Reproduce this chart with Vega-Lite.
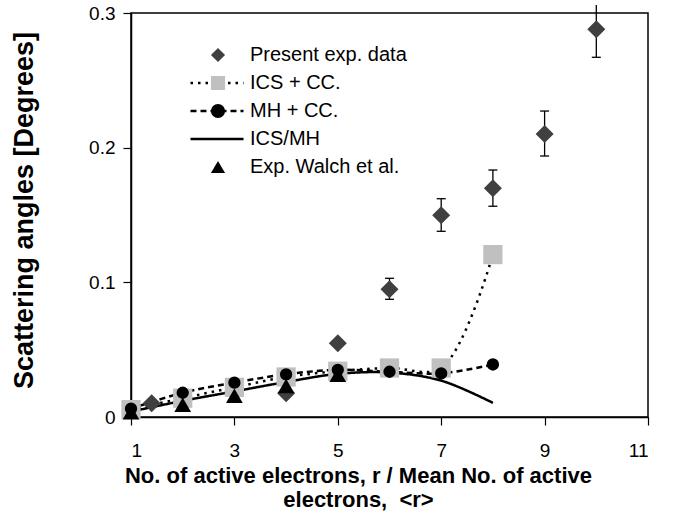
{
  "$schema": "https://vega.github.io/schema/vega-lite/v6.json",
  "width": 517,
  "height": 404,
  "autosize": {"type": "none"},
  "padding": {"left": 131, "top": 13, "right": 33, "bottom": 112},
  "background": "white",
  "config": {
    "font": "Liberation Sans",
    "view": {"stroke": "black", "strokeWidth": 1.5},
    "axis": {
      "domainColor": "black", "domainWidth": 1.5,
      "tickColor": "black", "tickWidth": 1.2, "tickSize": 8,
      "labelColor": "black", "titleColor": "black", "grid": false,
      "labelFont": "Liberation Sans", "titleFont": "Liberation Sans",
      "labelFontSize": 19
    },
    "legend": {
      "labelFont": "Liberation Sans", "labelFontSize": 20, "labelColor": "black",
      "labelLimit": 400, "padding": 0, "rowPadding": 0, "clipHeight": 28
    }
  },
  "datasets": {
    "points": [
      {"x": 1, "y": 0.0055, "series": "ICS + CC."},
      {"x": 2, "y": 0.014, "series": "ICS + CC."},
      {"x": 3, "y": 0.022, "series": "ICS + CC."},
      {"x": 4, "y": 0.0297, "series": "ICS + CC."},
      {"x": 5, "y": 0.034, "series": "ICS + CC."},
      {"x": 6, "y": 0.0364, "series": "ICS + CC."},
      {"x": 7, "y": 0.0364, "series": "ICS + CC."},
      {"x": 8, "y": 0.1206, "series": "ICS + CC."},
      {"x": 1.4, "y": 0.0102, "series": "Present exp. data"},
      {"x": 4, "y": 0.0176, "series": "Present exp. data"},
      {"x": 5, "y": 0.0547, "series": "Present exp. data"},
      {"x": 6, "y": 0.0948, "series": "Present exp. data"},
      {"x": 7, "y": 0.1498, "series": "Present exp. data"},
      {"x": 8, "y": 0.1698, "series": "Present exp. data"},
      {"x": 9, "y": 0.2101, "series": "Present exp. data"},
      {"x": 10, "y": 0.2879, "series": "Present exp. data"},
      {"x": 1, "y": 0.0062, "series": "MH + CC."},
      {"x": 2, "y": 0.018, "series": "MH + CC."},
      {"x": 3, "y": 0.0255, "series": "MH + CC."},
      {"x": 4, "y": 0.0317, "series": "MH + CC."},
      {"x": 5, "y": 0.035, "series": "MH + CC."},
      {"x": 6, "y": 0.0336, "series": "MH + CC."},
      {"x": 7, "y": 0.0324, "series": "MH + CC."},
      {"x": 8, "y": 0.039, "series": "MH + CC."},
      {"x": 1, "y": 0.0035, "series": "Exp. Walch et al."},
      {"x": 2, "y": 0.0091, "series": "Exp. Walch et al."},
      {"x": 3, "y": 0.0158, "series": "Exp. Walch et al."},
      {"x": 4, "y": 0.023, "series": "Exp. Walch et al."},
      {"x": 5, "y": 0.0314, "series": "Exp. Walch et al."}
    ],
    "curves": [
      {"x": 1, "y": 0.0055, "curve": "ICS + CC."},
      {"x": 2, "y": 0.014, "curve": "ICS + CC."},
      {"x": 3, "y": 0.022, "curve": "ICS + CC."},
      {"x": 4, "y": 0.0297, "curve": "ICS + CC."},
      {"x": 5, "y": 0.034, "curve": "ICS + CC."},
      {"x": 6, "y": 0.0364, "curve": "ICS + CC."},
      {"x": 7, "y": 0.0364, "curve": "ICS + CC."},
      {"x": 8, "y": 0.1206, "curve": "ICS + CC."},
      {"x": 1, "y": 0.0062, "curve": "MH + CC."},
      {"x": 2, "y": 0.018, "curve": "MH + CC."},
      {"x": 3, "y": 0.0255, "curve": "MH + CC."},
      {"x": 4, "y": 0.0317, "curve": "MH + CC."},
      {"x": 5, "y": 0.035, "curve": "MH + CC."},
      {"x": 6, "y": 0.0336, "curve": "MH + CC."},
      {"x": 7, "y": 0.0324, "curve": "MH + CC."},
      {"x": 8, "y": 0.039, "curve": "MH + CC."},
      {"x": 1, "y": 0.004, "curve": "ICS/MH"},
      {"x": 2, "y": 0.012, "curve": "ICS/MH"},
      {"x": 3, "y": 0.019, "curve": "ICS/MH"},
      {"x": 4, "y": 0.026, "curve": "ICS/MH"},
      {"x": 5, "y": 0.032, "curve": "ICS/MH"},
      {"x": 6, "y": 0.033, "curve": "ICS/MH"},
      {"x": 7, "y": 0.027, "curve": "ICS/MH"},
      {"x": 8, "y": 0.0105, "curve": "ICS/MH"}
    ],
    "errors": [
      {"x": 6, "lo": 0.0874, "hi": 0.103},
      {"x": 7, "lo": 0.1379, "hi": 0.1621},
      {"x": 8, "lo": 0.1565, "hi": 0.1834},
      {"x": 9, "lo": 0.1938, "hi": 0.2272},
      {"x": 10, "lo": 0.2671, "hi": 0.306}
    ],
    "caps": [
      {"x": 6, "y": 0.0874}, {"x": 6, "y": 0.103},
      {"x": 7, "y": 0.1379}, {"x": 7, "y": 0.1621},
      {"x": 8, "y": 0.1565}, {"x": 8, "y": 0.1834},
      {"x": 9, "y": 0.1938}, {"x": 9, "y": 0.2272},
      {"x": 10, "y": 0.2671}
    ]
  },
  "encoding": {
    "x": {
      "field": "x", "type": "quantitative",
      "scale": {"domain": [1, 11], "nice": false, "zero": false},
      "axis": {
        "values": [1, 3, 5, 7, 9, 11],
        "labelPadding": 16,
        "title": ["No. of active electrons, r / Mean No. of active", "electrons,\u00a0\u00a0<r>"],
        "titleFontSize": 22, "titleFontWeight": "bold",
        "titleX": 227, "titleY": 48, "titleBaseline": "top", "titleAlign": "center",
        "titleLineHeight": 24
      }
    },
    "y": {
      "field": "y", "type": "quantitative",
      "scale": {"domain": [0, 0.3], "nice": false},
      "axis": {
        "values": [0, 0.1, 0.2, 0.3],
        "labelExpr": "datum.value == 0 ? '0' : format(datum.value, '.1f')",
        "labelPadding": 8,
        "title": "Scattering angles [Degrees]",
        "titleFontSize": 27, "titleFontWeight": "bold",
        "titleX": -107, "titleY": 197, "titleBaseline": "middle", "titleAngle": -90, "titleAlign": "center"
      }
    },
    "shape": {
      "field": "series", "type": "nominal",
      "scale": {
        "domain": ["Present exp. data", "ICS + CC.", "MH + CC.", "ICS/MH", "Exp. Walch et al."],
        "range": ["diamond", "square", "circle", "circle", "triangle-up"]
      },
      "legend": {
        "title": null, "orient": "none", "legendX": 77, "legendY": 28,
        "symbolSize": 200, "symbolStrokeWidth": 0, "labelOffset": 22,
        "encode": {"symbols": {"update": {"size": {"signal": "datum.value == 'MH + CC.' ? 150 : 210"}}}}
      }
    },
    "color": {
      "field": "series", "type": "nominal",
      "scale": {
        "domain": ["Present exp. data", "ICS + CC.", "MH + CC.", "ICS/MH", "Exp. Walch et al."],
        "range": ["#404040", "#c0c0c0", "#000000", "transparent", "#000000"]
      },
      "legend": {
        "title": null, "orient": "none", "legendX": 77, "legendY": 28,
        "symbolSize": 200, "symbolStrokeWidth": 0, "labelOffset": 22,
        "encode": {"symbols": {"update": {"size": {"signal": "datum.value == 'MH + CC.' ? 150 : 210"}}}}
      }
    }
  },
  "layer": [
    {
      "data": {"name": "curves"},
      "mark": {"type": "line", "interpolate": "catmull-rom", "strokeWidth": 2.5, "color": "black", "clip": false},
      "encoding": {
        "shape": null,
        "color": null,
        "strokeDash": {
          "field": "curve", "type": "nominal",
          "scale": {"domain": ["ICS + CC.", "MH + CC.", "ICS/MH"], "range": [[2.5, 5], [6, 4], [1, 0]]},
          "legend": {
            "title": null, "orient": "none", "legendX": 58, "legendY": 56,
            "symbolType": "stroke", "symbolSize": 2809, "symbolStrokeWidth": 2.5,
            "symbolStrokeColor": "black", "labelColor": "transparent",
            "encode": {"symbols": {"update": {"strokeDash": {"signal": "datum.value == 'ICS/MH' ? [1, 0] : [4, 4, 4, 5, 0, 19, 4, 4, 4, 4, 2, 10]"}}}}
          }
        }
      }
    },
    {
      "data": {"name": "errors"},
      "mark": {"type": "rule", "color": "black", "strokeWidth": 1.3, "clip": false},
      "encoding": {
        "shape": null,
        "color": null,
        "y": {"field": "lo", "type": "quantitative"},
        "y2": {"field": "hi"}
      }
    },
    {
      "data": {"name": "caps"},
      "mark": {"type": "tick", "orient": "horizontal", "size": 9, "thickness": 1.3, "color": "black", "opacity": 1, "clip": false},
      "encoding": {"shape": null, "color": null}
    },
    {
      "data": {"name": "points"},
      "transform": [{"filter": "datum.series == 'ICS + CC.'"}],
      "mark": {"type": "point", "filled": true, "opacity": 1, "size": 370, "clip": false}
    },
    {
      "data": {"name": "points"},
      "transform": [{"filter": "datum.series == 'Present exp. data'"}],
      "mark": {"type": "point", "filled": true, "opacity": 1, "size": 324, "clip": false}
    },
    {
      "data": {"name": "points"},
      "transform": [{"filter": "datum.series == 'MH + CC.'"}],
      "mark": {"type": "point", "filled": true, "opacity": 1, "size": 152, "clip": false}
    },
    {
      "data": {"name": "points"},
      "transform": [{"filter": "datum.series == 'Exp. Walch et al.'"}],
      "mark": {"type": "point", "filled": true, "opacity": 1, "size": 280, "clip": false}
    }
  ]
}
